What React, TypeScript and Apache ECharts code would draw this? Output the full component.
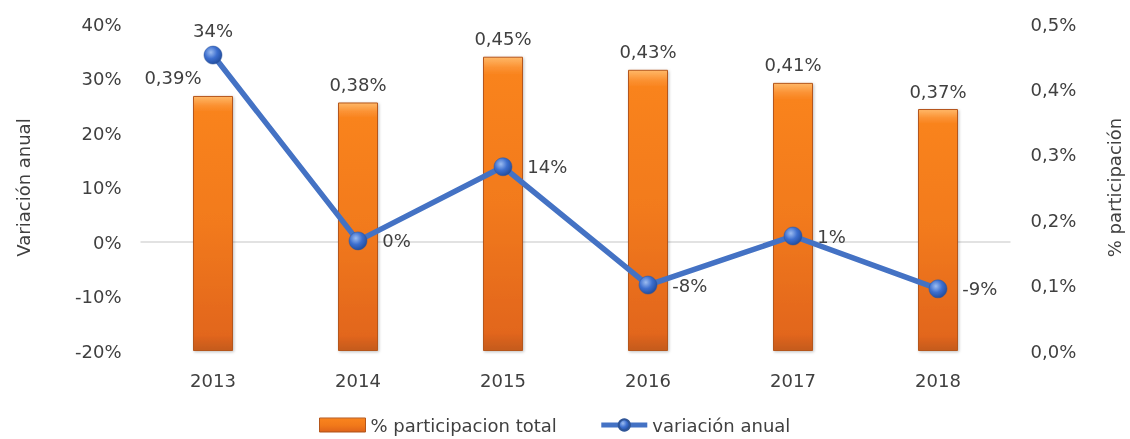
import React, { useEffect, useRef } from "react";
import * as echarts from "echarts";

const years = ["2013", "2014", "2015", "2016", "2017", "2018"];
const participacion = [0.39, 0.38, 0.45, 0.43, 0.41, 0.37];
const variacion = [34.3, 0.2, 13.8, -7.9, 1.1, -8.6];
const variacionLabelPos = ["top", "right", "right", "right", "right", "right"];

const FONT = "DejaVu Sans";
const TXT = "#404040";

export default function App() {
  const ref = useRef<HTMLDivElement>(null);
  useEffect(() => {
    const chart = echarts.init(ref.current!, null, { renderer: "svg" });
    const barColor = new echarts.graphic.LinearGradient(0, 0, 0, 1, [
      { offset: 0, color: "#ffb868" },
      { offset: 0.035, color: "#fb9233" },
      { offset: 0.06, color: "#f9831d" },
      { offset: 0.5, color: "#f27a1a" },
      { offset: 0.94, color: "#e2661a" },
      { offset: 1, color: "#c45a1c" },
    ]);
    const dotColor = new echarts.graphic.RadialGradient(0.38, 0.35, 0.7, [
      { offset: 0, color: "#9cbcf0" },
      { offset: 0.5, color: "#3d6fcf" },
      { offset: 1, color: "#1f4a9a" },
    ]);
    chart.setOption({
      animation: false,
      textStyle: { fontFamily: FONT, color: TXT },
      grid: { left: 140.5, right: 119.5, top: 24, bottom: 88, outerBoundsMode: "none", containLabel: false },
      legend: {
        left: 319,
        top: 416,
        padding: 0,
        itemGap: 42,
        itemWidth: 46,
        itemHeight: 14,
        textStyle: { fontFamily: FONT, fontSize: 18, color: TXT },
        data: [
          { name: "% participacion total", icon: "rect", itemStyle: { color: barColor, borderColor: "#b5561a", borderWidth: 1 } },
          { name: "variación anual", lineStyle: { width: 5, color: "#4472c4" } },
        ],
      },
      xAxis: {
        type: "category",
        data: years,
        axisLine: { show: false },
        axisTick: { show: false },
        axisLabel: { fontFamily: FONT, fontSize: 18, color: TXT, margin: 20 },
      },
      yAxis: [
        {
          type: "value",
          min: -20,
          max: 40,
          interval: 10,
          name: "Variación anual",
          nameLocation: "middle",
          nameGap: 108,
          nameRotate: 90,
          nameTextStyle: { fontFamily: FONT, fontSize: 18, color: TXT },
          splitLine: { show: false },
          axisLine: { show: false },
          axisTick: { show: false },
          axisLabel: {
            fontFamily: FONT,
            fontSize: 18,
            color: TXT,
            margin: 19,
            formatter: (v: number) => `${v}%`,
          },
        },
        {
          type: "value",
          min: 0,
          max: 0.5,
          interval: 0.1,
          name: "% participación",
          nameLocation: "middle",
          nameGap: 95,
          nameRotate: 90,
          nameTextStyle: { fontFamily: FONT, fontSize: 18, color: TXT },
          splitLine: { show: false },
          axisLine: { show: false },
          axisTick: { show: false },
          axisLabel: {
            fontFamily: FONT,
            fontSize: 18,
            color: TXT,
            margin: 20,
            formatter: (v: number) => `${v.toFixed(1).replace(".", ",")}%`,
          },
        },
      ],
      series: [
        {
          name: "% participacion total",
          type: "bar",
          yAxisIndex: 1,
          barWidth: 40,
          data: participacion.map((v, i) =>
            i === 0 ? { value: v, label: { offset: [-40, 0] } } : v
          ),
          itemStyle: {
            color: barColor,
            borderColor: "#b5561a",
            borderWidth: 1,
            shadowColor: "rgba(0,0,0,0.25)",
            shadowBlur: 3,
            shadowOffsetX: 1,
            shadowOffsetY: 1,
          },
          label: {
            show: true,
            position: "top",
            distance: 9,
            fontFamily: FONT,
            fontSize: 18,
            color: TXT,
            formatter: (p: any) => `${p.value.toFixed(2).replace(".", ",")}%`,
          },
          z: 2,
        },
        {
          name: "variación anual",
          type: "line",
          yAxisIndex: 0,
          data: variacion.map((v, i) => ({
            value: v,
            label: { position: variacionLabelPos[i], distance: i === 0 ? 6 : 15 },
          })),
          symbol: "circle",
          symbolSize: 18,
          lineStyle: { color: "#4472c4", width: 5.5 },
          itemStyle: { color: dotColor, borderColor: "#2f5597", borderWidth: 0.5 },
          label: {
            show: true,
            fontFamily: FONT,
            fontSize: 18,
            color: TXT,
            formatter: (p: any) => `${Math.round(p.value)}%`,
          },
          markLine: {
            silent: true,
            symbol: "none",
            label: { show: false },
            lineStyle: { color: "#d9d9d9", width: 1.5, type: "solid" },
            data: [{ yAxis: 0 }],
            z: 1,
          },
          z: 5,
        },
      ],
    });
    return () => chart.dispose();
  }, []);
  return (
    <div
      ref={ref}
      style={{ position: "fixed", left: 0, top: 0, width: 1130, height: 439 }}
    />
  );
}
